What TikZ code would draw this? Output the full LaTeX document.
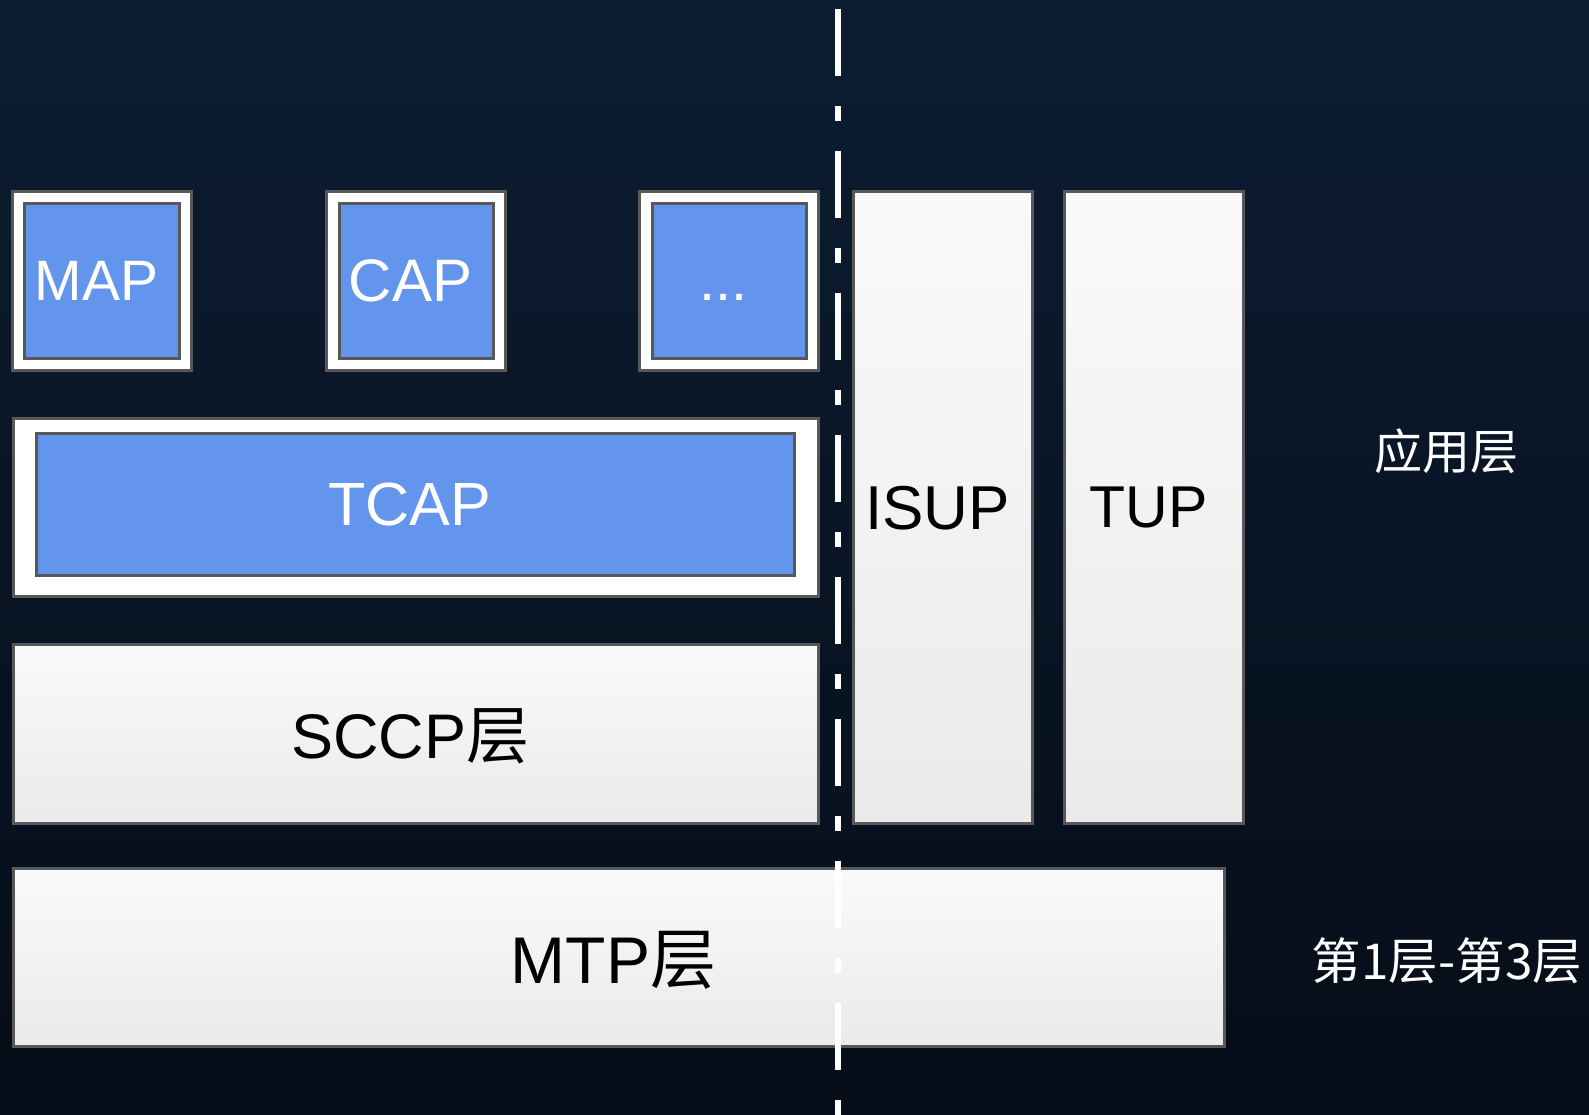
\documentclass[tikz,border=0pt]{standalone}
\usepackage{fontspec}
\setmainfont{Liberation Sans}
\newfontfamily\cjk{Noto Sans CJK SC}
\usepackage{tikz}
\usetikzlibrary{positioning}
\definecolor{bgtop}{RGB}{12,29,50}
\definecolor{bgbot}{RGB}{6,13,24}
\definecolor{edgegray}{RGB}{88,88,88}
\definecolor{capblue}{RGB}{100,149,237}
\definecolor{boxtop}{RGB}{250,250,250}
\definecolor{boxbot}{RGB}{234,234,234}
\tikzset{
  appbox/.style={draw=edgegray, line width=3pt, fill=white, inner sep=0pt, minimum width=179pt, minimum height=179pt},
  protobox/.style={draw=edgegray, line width=3pt, fill=capblue, text=white, inner sep=0pt},
  layerbox/.style={draw=edgegray, line width=3pt, top color=boxtop, bottom color=boxbot, inner sep=0pt, text=black, text depth=0pt},
  sidelabel/.style={text=white, font=\cjk\fontsize{48}{58}\selectfont},
  splitline/.style={draw=white, line width=6pt, dash pattern=on 67pt off 30pt on 15pt off 30pt, dash phase=133pt},
}
\newcommand{\px}[1]{\fontsize{#1}{#1}\selectfont}
% text sits a little left of the box centre
\newcommand{\lft}[1]{#1\kern11pt}

\begin{document}
\begin{tikzpicture}[x=1pt, y=-1pt]
  \shade[top color=bgtop, bottom color=bgbot] (0,0) rectangle (1589,1115);
  \useasboundingbox (0,0) rectangle (1589,1115);

  % application parts on top of TCAP
  \node[appbox] (mapo) at (102,281) {};
  \node[appbox, right=132pt of mapo] (capo) {};
  \node[appbox, right=131pt of capo] (moreo) {};
  \node[protobox, minimum width=155pt, minimum height=155pt, font=\px{57}] (map) at (mapo.center) {\lft{MAP}};
  \node[protobox, minimum width=154pt, minimum height=155pt, font=\px{60}] (cap) at (capo.center) {\lft{CAP}};
  \node[protobox, minimum width=154pt, minimum height=155pt, font=\px{58}] (more) at (moreo.center) {\lft{\vphantom{A}...}};

  \node[appbox, minimum width=805pt, minimum height=178pt] (tcapo) at (416,507.5) {};
  \node[protobox, minimum width=758pt, minimum height=142pt, font=\px{61}] (tcap) at (415.5,504.5) {\lft{TCAP}};

  \node[layerbox, minimum width=805pt, minimum height=179pt, font=\px{63}] (sccp) at (416,734) {\lft{SCCP{\cjk 层}}};

  % user parts
  \node[layerbox, minimum width=179pt, minimum height=632pt, font=\px{62}] (isup) at (943,507.5) {\lft{ISUP}};
  \node[layerbox, minimum width=179pt, minimum height=632pt, font=\px{59}, right=29pt of isup] (tup) {\lft{TUP}};

  \node[layerbox, minimum width=1211pt, minimum height=178pt, font=\px{66}] (mtp) at (619,957.5) {\lft{MTP{\cjk 层}}};

  \node[sidelabel] (applayer) at (1446,451) {应用层};
  \node[sidelabel, font=\cjk\px{49.5}] (lowlayer) at (1447,961) {第1层-第3层};

  \coordinate (cuttop) at (838,0);
  \coordinate (cutbot) at (838,1115);
  \draw[splitline] (cuttop) -- (cutbot);
\end{tikzpicture}
\end{document}
